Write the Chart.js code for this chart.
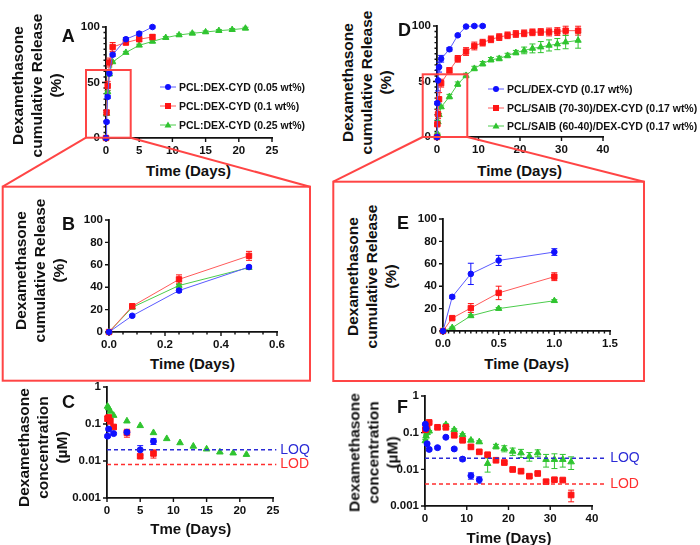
<!DOCTYPE html>
<html>
<head>
<meta charset="utf-8">
<script src="https://cdn.jsdelivr.net/npm/chart.js@4.4.0/dist/chart.umd.min.js"></script>
<style>
  body { margin: 0; background: #fff; width: 700px; height: 545px; position: relative; overflow: hidden;
         font-family: "Liberation Sans", Arial, sans-serif; color: #111; }
  canvas { position: absolute; }
  .txt { position: absolute; font-weight: bold; white-space: nowrap; line-height: 1; transform: translate(-50%, -50%); }
  .ytitle { position: absolute; font-weight: bold; font-size: 15.5px; line-height: 19px; text-align: center;
            white-space: nowrap; transform: rotate(-90deg); }
  .letter { position: absolute; font-weight: bold; font-size: 18px; line-height: 18px; }
  .leg { position: absolute; font-weight: bold; font-size: 10.5px; line-height: 12px; display: flex; align-items: center; white-space: nowrap; }
  .leg svg { margin-right: 3px; }
  svg.ov { position: absolute; left: 0; top: 0; pointer-events: none; }
</style>
</head>
<body>
<script>
// ---- Panel A / B : cumulative release, PCL:DEX-CYD films ----
const daysA1 = [0, 0.083, 0.25, 0.5, 1, 3, 5, 7];
const relA005 = [0, 14.5, 37, 58, 75, 89, 94, 100];
const errA005 = [0, 1, 1.5, 1.5, 1.5, 1.5, 1.5, 1];
const relA01 = [0, 23, 47, 68, 82, 86, 89, 91];
const errA01 = [0, 2, 4, 4, 4, 2, 2, 2];
const daysA2 = [0, 0.083, 0.25, 0.5, 1, 3, 5, 7, 9, 11, 13, 15, 17, 19, 21];
const relA025 = [0, 22, 41.5, 57.5, 68.5, 77, 83.5, 87, 90.4, 92.8, 94.3, 95.5, 96.7, 97.6, 98.8];
const errA025 = [0, 1, 1, 1, 1, 1, 1, 1, 1, 1, 1, 1, 1, 1, 1];

// ---- Panel D / E : cumulative release, PCL/SAIB blends ----
const daysD1 = [0, 0.083, 0.25, 0.5, 1, 3, 5, 7, 9, 11];
const relD1 = [0, 30.5, 51, 63, 70.5, 79, 91.6, 99.5, 100, 100];
const errD1 = [0, 1.5, 9.5, 4.5, 3, 1.5, 1, 1, 1, 1];
const daysD2 = [0, 0.083, 0.25, 0.5, 1, 3, 5, 7, 9, 11, 13, 15, 17, 19, 21, 23, 25, 27, 29, 31, 34];
const relD2 = [0, 11.5, 20.5, 34, 48.5, 60, 70.4, 77, 82, 85, 88, 90, 91.6, 92.8, 93.4, 94.3, 94.6, 94.6, 95, 95.8, 95.8];
const errD2 = [0, 1, 4, 6, 3.5, 2.5, 3, 3.5, 3.5, 3, 3, 3, 3, 3, 3, 3, 3, 3.5, 3.5, 4, 4];
const relD3 = [0, 3, 13.5, 20, 27, 36.4, 47.6, 55.4, 61.7, 66, 69.6, 70.7, 73.4, 76, 78, 79.8, 81, 82.5, 83.7, 85.5, 87];
const errD3 = [0, 0.5, 1, 1, 1, 2, 2, 2, 2, 2, 2, 2, 2, 2, 3, 4, 5, 5, 5, 6, 7];

// ---- Panel C : concentration (uM), PCL:DEX-CYD ----
const daysC1 = [0.083, 0.25, 1, 3, 5, 7];
const concC1 = [0.047, 0.073, 0.055, 0.06, 0.02, 0.034];
const errC1 = [0.004, 0.005, 0.004, 0.006, 0.006, 0.006];
const daysC2 = [0.083, 0.25, 0.5, 1, 3, 5, 7];
const concC2 = [0.14, 0.15, 0.12, 0.083, 0.058, 0.0135, 0.016];
const errC2 = [0.02, 0.02, 0.02, 0.01, 0.014, 0.0015, 0.004];
const daysC3 = [0.083, 0.25, 0.5, 1, 3, 5, 7, 9, 11, 13, 15, 17, 19, 21];
const concC3 = [0.3, 0.27, 0.22, 0.17, 0.12, 0.09, 0.058, 0.04, 0.031, 0.025, 0.021, 0.0174, 0.0164, 0.015];
const limitsC = { loq: 0.02, lod: 0.008 };

// ---- Panel F : concentration (uM), PCL/SAIB blends ----
const daysF1 = [0.083, 0.25, 0.5, 1, 3, 5, 7, 9, 11, 13];
const concF1 = [0.17, 0.13, 0.05, 0.035, 0.039, 0.075, 0.036, 0.019, 0.0067, 0.0052];
const errF1 = [0.01, 0.01, 0.004, 0.003, 0.003, 0.005, 0.003, 0.002, 0.0013, 0.001];
const daysF2 = [0.083, 0.25, 0.5, 1, 3, 5, 7, 9, 11, 13, 15, 17, 19, 21, 23, 25, 27, 29, 31, 33, 35];
const concF2 = [0.12, 0.13, 0.15, 0.19, 0.14, 0.14, 0.085, 0.062, 0.041, 0.03, 0.025, 0.0177, 0.0153, 0.0099, 0.0089, 0.0065, 0.0077, 0.0046, 0.0052, 0.0051, 0.002];
const errF2 = [0.01, 0.01, 0.01, 0.01, 0.01, 0.01, 0.006, 0.004, 0.003, 0.002, 0.002, 0.001, 0.001, 0.0008, 0.0007, 0.0005, 0.0006, 0.0005, 0.0005, 0.0004, 0.0007];
const daysF3 = [0.083, 0.25, 0.5, 1, 5, 7, 9, 11, 13, 15, 17, 19, 21, 23, 25, 27, 29, 31, 33, 35];
const concF3 = [0.06, 0.08, 0.1, 0.11, 0.165, 0.12, 0.088, 0.062, 0.056, 0.0144, 0.042, 0.037, 0.031, 0.028, 0.0227, 0.028, 0.0185, 0.0185, 0.0185, 0.0159];
const errF3 = [0.005, 0.005, 0.005, 0.005, 0.01, 0.008, 0.006, 0.004, 0.004, 0.006, 0.006, 0.007, 0.007, 0.007, 0.006, 0.006, 0.007, 0.008, 0.007, 0.006];
const limitsF = { loq: 0.02, lod: 0.004 };

const logTicks = [0.001, 0.01, 0.1, 1];

const BLUE = '#1010ff', RED = '#ff1515', GREEN = '#2fc42f';
const BLUE_L = '#5a5aff', RED_L = '#ff5a5a', GREEN_L = '#4ccc4c';

Chart.defaults.font.family = "'Liberation Sans', Arial, sans-serif";
Chart.defaults.color = '#111';

// ticks (major + minor) drawn by hand, GraphPad style
const axisTicks = {
  id: 'axisTicks',
  beforeDatasetsDraw(chart) {
    const o = chart.options.plugins.axisTicks || {};
    const { ctx, chartArea: a } = chart;
    const xs = chart.scales.x, ys = chart.scales.y;
    ctx.save();
    ctx.strokeStyle = '#111';
    ctx.lineWidth = 1.4;
    ctx.beginPath();
    xs.ticks.forEach(t => { const p = xs.getPixelForValue(t.value); ctx.moveTo(p, a.bottom); ctx.lineTo(p, a.bottom + 4); });
    ys.ticks.forEach(t => { const p = ys.getPixelForValue(t.value); ctx.moveTo(a.left, p); ctx.lineTo(a.left - 4, p); });
    if (o.xMinor) {
      for (let v = xs.min; v <= xs.max + 1e-9; v += o.xMinor) {
        const p = xs.getPixelForValue(v); ctx.moveTo(p, a.bottom); ctx.lineTo(p, a.bottom + 2.5);
      }
    }
    if (o.yMinor) {
      for (let v = ys.min; v <= ys.max + 1e-9; v += o.yMinor) {
        const p = ys.getPixelForValue(v); ctx.moveTo(a.left, p); ctx.lineTo(a.left - 2.5, p);
      }
    }
    ctx.stroke();
    ctx.restore();
  }
};

const errorBars = {
  id: 'errorBars',
  beforeDatasetsDraw(chart) {
    const { ctx } = chart;
    const xs = chart.scales.x, ys = chart.scales.y;
    chart.data.datasets.forEach(ds => {
      if (!ds.errs) return;
      ctx.save();
      ctx.strokeStyle = ds.pointBackgroundColor;
      ctx.lineWidth = 1;
      ctx.beginPath();
      ds.data.forEach((pt, i) => {
        const e = ds.errs[i];
        if (!e) return;
        const x = xs.getPixelForValue(pt.x);
        const lo = Math.max(pt.y - e, ys.min * 1.0001);
        const y1 = ys.getPixelForValue(pt.y + e), y2 = ys.getPixelForValue(lo);
        ctx.moveTo(x, y1); ctx.lineTo(x, y2);
        ctx.moveTo(x - 3, y1); ctx.lineTo(x + 3, y1);
        ctx.moveTo(x - 3, y2); ctx.lineTo(x + 3, y2);
      });
      ctx.stroke();
      ctx.restore();
    });
  }
};

const limitLines = {
  id: 'limitLines',
  afterDatasetsDraw(chart) {
    const o = chart.options.plugins.limitLines;
    if (!o) return;
    const { ctx, chartArea: a } = chart;
    const xs = chart.scales.x, ys = chart.scales.y;
    const xEnd = xs.getPixelForValue(o.endDay);
    [[o.loq, '#2b2bd6', 'LOQ'], [o.lod, '#ff2e2e', 'LOD']].forEach(([v, col, txt]) => {
      const y = ys.getPixelForValue(v);
      ctx.save();
      ctx.strokeStyle = col;
      ctx.lineWidth = 1.5;
      ctx.setLineDash([4, 3]);
      ctx.beginPath(); ctx.moveTo(a.left, y); ctx.lineTo(xEnd, y); ctx.stroke();
      ctx.setLineDash([]);
      ctx.fillStyle = col;
      ctx.font = "14px 'Liberation Sans', Arial, sans-serif";
      ctx.textBaseline = 'middle';
      ctx.fillText(txt, xEnd + 4, y);
      ctx.restore();
    });
  }
};

function series(xs, ys, errs, color, lineColor, style, r, showLine) {
  return {
    data: xs.map((x, i) => ({ x, y: ys[i] })),
    errs,
    showLine,
    borderColor: lineColor,
    borderWidth: 1,
    pointStyle: style,
    pointRadius: r,
    pointBackgroundColor: color,
    pointBorderColor: color,
    pointBorderWidth: 1,
    clip: false
  };
}

const tickFont = { size: 11.5, weight: 'bold' };

function linAxis(min, max, step, fmt) {
  return {
    type: 'linear', min, max,
    ticks: { stepSize: step, font: tickFont, color: '#111', padding: 2, maxRotation: 0, autoSkip: false,
             callback: fmt || (v => v) },
    grid: { display: false, drawTicks: true, tickLength: 4 },
    border: { color: '#111', width: 1.8 }
  };
}

function logAxis() {
  return {
    type: 'logarithmic', min: 0.001, max: 1,
    afterBuildTicks: s => { s.ticks = logTicks.map(v => ({ value: v })); },
    ticks: { font: tickFont, color: '#111', padding: 2, autoSkip: false, callback: v => String(v) },
    grid: { display: false, drawTicks: true, tickLength: 4 },
    border: { color: '#111', width: 1.8 }
  };
}

function makeChart(area, m, scales, datasets, plugins) {
  const c = document.createElement('canvas');
  const w = area.r - area.l + m.l + m.r, h = area.b - area.t + m.t + m.b;
  c.width = w; c.height = h;
  c.style.left = (area.l - m.l) + 'px';
  c.style.top = (area.t - m.t) + 'px';
  c.style.width = w + 'px'; c.style.height = h + 'px';
  document.body.appendChild(c);
  scales.x.afterFit = s => { s.height = m.b; s.paddingLeft = 0; s.paddingRight = 0; };
  scales.y.afterFit = s => { s.width = m.l; s.paddingTop = 0; s.paddingBottom = 0; };
  return new Chart(c, {
    type: 'scatter',
    data: { datasets },
    options: {
      responsive: false, animation: false,
      layout: { padding: { top: m.t, right: m.r, left: 0, bottom: 0 } },
      scales,
      plugins: Object.assign({ legend: { display: false }, tooltip: { enabled: false } }, plugins)
    },
    plugins: [axisTicks, errorBars, limitLines]
  });
}

function text(str, cx, cy, size) {
  const d = document.createElement('div');
  d.className = 'txt';
  d.style.left = cx + 'px'; d.style.top = cy + 'px'; d.style.fontSize = size + 'px';
  d.textContent = str;
  document.body.appendChild(d);
}

function yTitle(lines, cx, cy) {
  const d = document.createElement('div');
  d.className = 'ytitle';
  const w = 170, h = lines.length * 19;
  d.style.width = w + 'px'; d.style.height = h + 'px';
  d.style.left = (cx - w / 2) + 'px'; d.style.top = (cy - h / 2) + 'px';
  d.innerHTML = lines.join('<br>');
  document.body.appendChild(d);
}

function letter(ch, x, y) {
  const d = document.createElement('div');
  d.className = 'letter';
  d.style.left = (x - 1) + 'px'; d.style.top = (y - 2.5) + 'px';
  d.textContent = ch;
  document.body.appendChild(d);
}

function marker(shape, color) {
  if (shape === 'circle') return `<circle cx="8" cy="6" r="3" fill="${color}"/>`;
  if (shape === 'rect') return `<rect x="5" y="3" width="6" height="6" fill="${color}"/>`;
  return `<polygon points="8,2.5 11.5,8.5 4.5,8.5" fill="${color}"/>`;
}

function legendRow(x, cy, color, lineColor, shape, label) {
  const d = document.createElement('div');
  d.className = 'leg';
  d.style.left = x + 'px'; d.style.top = (cy - 6) + 'px';
  d.innerHTML = `<svg width="16" height="12"><line x1="0" y1="6" x2="16" y2="6" stroke="${lineColor}" stroke-width="1"/>${marker(shape, color)}</svg><span>${label}</span>`;
  document.body.appendChild(d);
}

// ---------- Panel A ----------
makeChart({ l: 106, r: 272, t: 27, b: 138 }, { l: 46, r: 10, t: 12, b: 22 },
  { x: linAxis(0, 25, 5), y: linAxis(0, 100, 50) },
  [
    series(daysA1, relA005, errA005, BLUE, BLUE_L, 'circle', 2.8, true),
    series(daysA1, relA01, errA01, RED, RED_L, 'rect', 3.8, true),
    series(daysA2, relA025, errA025, GREEN, GREEN_L, 'triangle', 3.6, true)
  ],
  { axisTicks: { yMinor: 5 } });

// ---------- Panel B (zoom of A, first 12 h) ----------
makeChart({ l: 109, r: 277, t: 220, b: 332 }, { l: 49, r: 12, t: 12, b: 22 },
  { x: linAxis(0, 0.6, 0.2, v => v.toFixed(1)), y: linAxis(0, 100, 20) },
  [
    series(daysA1.slice(0, 4), relA005.slice(0, 4), errA005.slice(0, 4), BLUE, BLUE_L, 'circle', 2.8, true),
    series(daysA1.slice(0, 4), relA01.slice(0, 4), errA01.slice(0, 4), RED, RED_L, 'rect', 3.8, true),
    series(daysA2.slice(0, 4), relA025.slice(0, 4), errA025.slice(0, 4), GREEN, GREEN_L, 'triangle', 3.6, true)
  ],
  { axisTicks: { xMinor: 0.05 } });

// ---------- Panel C ----------
makeChart({ l: 107, r: 273, t: 387, b: 498 }, { l: 52, r: 50, t: 8, b: 22 },
  { x: linAxis(0, 25, 5), y: logAxis() },
  [
    series(daysC1, concC1, errC1, BLUE, BLUE_L, 'circle', 3, false),
    series(daysC2, concC2, errC2, RED, RED_L, 'rect', 4, false),
    series(daysC3, concC3, null, GREEN, GREEN_L, 'triangle', 3.8, false)
  ],
  { limitLines: { loq: limitsC.loq, lod: limitsC.lod, endDay: 25.5 } });

// ---------- Panel D ----------
makeChart({ l: 437, r: 603, t: 26, b: 137 }, { l: 42, r: 10, t: 12, b: 22 },
  { x: linAxis(0, 40, 10), y: linAxis(0, 100, 50) },
  [
    series(daysD1, relD1, errD1, BLUE, BLUE_L, 'circle', 2.8, true),
    series(daysD2, relD2, errD2, RED, RED_L, 'rect', 3.8, true),
    series(daysD2, relD3, errD3, GREEN, GREEN_L, 'triangle', 3.6, true)
  ],
  { axisTicks: { yMinor: 5 } });

// ---------- Panel E (zoom of D, first day) ----------
makeChart({ l: 443, r: 610, t: 219, b: 331 }, { l: 43, r: 12, t: 12, b: 22 },
  { x: linAxis(0, 1.5, 0.5, v => v.toFixed(1)), y: linAxis(0, 100, 20) },
  [
    series(daysD1.slice(0, 5), relD1.slice(0, 5), errD1.slice(0, 5), BLUE, BLUE_L, 'circle', 2.8, true),
    series(daysD2.slice(0, 5), relD2.slice(0, 5), errD2.slice(0, 5), RED, RED_L, 'rect', 3.8, true),
    series(daysD2.slice(0, 5), relD3.slice(0, 5), errD3.slice(0, 5), GREEN, GREEN_L, 'triangle', 3.6, true)
  ],
  { axisTicks: { xMinor: 0.05 } });

// ---------- Panel F ----------
makeChart({ l: 425, r: 592, t: 396, b: 506 }, { l: 45, r: 58, t: 8, b: 22 },
  { x: linAxis(0, 40, 10), y: logAxis() },
  [
    series(daysF1, concF1, errF1, BLUE, BLUE_L, 'circle', 3, false),
    series(daysF2, concF2, errF2, RED, RED_L, 'rect', 4, false),
    series(daysF3, concF3, errF3, GREEN, GREEN_L, 'triangle', 3.8, false)
  ],
  { limitLines: { loq: limitsF.loq, lod: limitsF.lod, endDay: 43.4 } });

// ---------- text ----------
yTitle(['Dexamethasone', 'cumulative Release', '(%)'], 36, 85);
yTitle(['Dexamethasone', 'cumulative Release', '(%)'], 39, 270);
yTitle(['Dexamethasone', 'concentration', '(µM)'], 42, 447);
yTitle(['Dexamethasone', 'cumulative Release', '(%)'], 366, 82);
yTitle(['Dexamethasone', 'cumulative Release', '(%)'], 371, 276);
yTitle(['Dexamethasone', 'concentration', '(µM)'], 373, 452);

text('Time (Days)', 188.5, 170, 15);
text('Time (Days)', 192.5, 363, 15);
text('Tme (Days)', 190.8, 528, 15);
text('Time (Days)', 519.7, 170, 15);
text('Time (Days)', 526.7, 363, 15);
text('Time (Days)', 509, 536.5, 15);

letter('A', 62.7, 29);
letter('B', 63, 217);
letter('C', 63, 395);
letter('D', 399, 23);
letter('E', 398, 216);
letter('F', 398, 400);

legendRow(160, 87, BLUE, BLUE_L, 'circle', 'PCL:DEX-CYD (0.05 wt%)');
legendRow(160, 106, RED, RED_L, 'rect', 'PCL:DEX-CYD (0.1 wt%)');
legendRow(160, 125, GREEN, GREEN_L, 'triangle', 'PCL:DEX-CYD (0.25 wt%)');
legendRow(488, 89, BLUE, BLUE_L, 'circle', 'PCL/DEX-CYD (0.17 wt%)');
legendRow(488, 107.5, RED, RED_L, 'rect', 'PCL/SAIB (70-30)/DEX-CYD (0.17 wt%)');
legendRow(488, 126, GREEN, GREEN_L, 'triangle', 'PCL/SAIB (60-40)/DEX-CYD (0.17 wt%)');

// ---------- zoom boxes ----------
const ov = document.createElementNS('http://www.w3.org/2000/svg', 'svg');
ov.setAttribute('class', 'ov');
ov.setAttribute('width', 700); ov.setAttribute('height', 545);
ov.innerHTML = `
  <g fill="none" stroke="#ff4545" stroke-width="2">
    <rect x="86" y="70" width="44.7" height="67.7"/>
    <rect x="2.7" y="186.7" width="307.3" height="194"/>
    <line x1="86" y1="137.7" x2="2.7" y2="186.7"/>
    <line x1="130.7" y1="137.7" x2="310" y2="186.7"/>
    <rect x="422.7" y="74.3" width="44.6" height="62.7"/>
    <rect x="333.3" y="181.7" width="310.7" height="199.3"/>
    <line x1="422.7" y1="137" x2="333.3" y2="181.7"/>
    <line x1="467.3" y1="137" x2="644" y2="181.7"/>
  </g>`;
document.body.appendChild(ov);
</script>
</body>
</html>
